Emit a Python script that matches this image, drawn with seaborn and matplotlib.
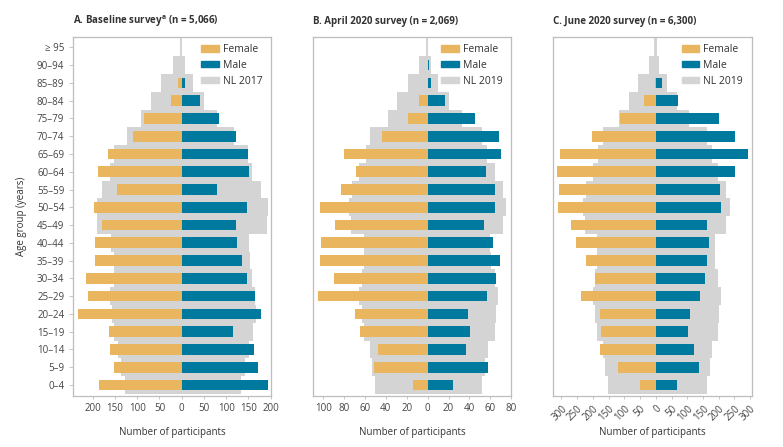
import numpy as np
import matplotlib
matplotlib.use('Agg')
import matplotlib.pyplot as plt
from matplotlib.patches import Patch
from matplotlib.ticker import FuncFormatter
import seaborn as sns

# Age groups, top to bottom
ages = ['≥ 95', '90–94', '85–89', '80–84', '75–79', '70–74', '65–69', '60–64',
        '55–59', '50–54', '45–49', '40–44', '35–39', '30–34', '25–29', '20–24',
        '15–19', '10–14', '5–9', '0–4']

# A. Baseline survey
fem_a = [0, 0, 8, 25, 85, 109, 166, 188, 145, 196, 178, 195, 195, 216, 210, 234, 163, 160, 153, 185]
male_a = [0, 0, 7, 40, 83, 122, 148, 151, 80, 147, 121, 124, 136, 146, 164, 178, 115, 162, 171, 195]
nl_fem_a = [4, 20, 46, 70, 91, 123, 153, 160, 178, 190, 190, 158, 153, 152, 160, 157, 152, 143, 136, 127]
nl_male_a = [1, 8, 25, 50, 79, 118, 148, 159, 179, 193, 192, 151, 154, 157, 164, 166, 160, 151, 142, 134]

# B. April 2020 survey
fem_b = [0, 0, 0, 8, 19, 44, 80, 69, 83, 103, 89, 102, 103, 90, 105, 70, 65, 48, 51, 14]
male_b = [0, 1, 3.5, 17, 45, 68, 70, 56, 64, 64, 54, 63, 69, 65, 57, 39, 41, 37, 58, 24]
nl_fem_b = [2, 8, 19, 29, 38, 55, 59, 66, 72, 75, 73, 61, 61, 63, 66, 63, 61, 55, 53, 50]
nl_male_b = [0.5, 3, 10, 20, 33, 52, 57, 64, 72, 75, 72, 60, 61, 64, 67, 65, 64, 58, 55, 52]

# C. June 2020 survey
fem_c = [0, 0, 4, 36, 114, 203, 305, 313, 307, 310, 271, 255, 222, 193, 237, 178, 175, 179, 120, 51]
male_c = [0, 2, 19, 70, 201, 251, 293, 252, 204, 206, 162, 169, 164, 157, 140, 108, 102, 120, 137, 67]
nl_fem_c = [6, 22, 56, 86, 117, 169, 183, 199, 222, 231, 225, 186, 186, 194, 201, 194, 186, 169, 162, 153]
nl_male_c = [3, 10, 34, 66, 104, 163, 180, 198, 224, 235, 224, 187, 189, 198, 208, 201, 198, 180, 171, 163]

FEMALE = '#E9B55F'
MALE = '#00799F'
GREY = '#D4D4D4'
FRAME = '#BDBDBD'
TEXT = '#333333'

sns.set_theme(style='white')
plt.rcParams['font.family'] = ['Open Sans', 'DejaVu Sans']
plt.rcParams['text.color'] = TEXT

fig = plt.figure(figsize=(7.83, 4.47), dpi=100)

panels = [
    dict(title='A. Baseline survey$^{\\mathregular{a}}$ (n = 5,066)', fem=fem_a, male=male_a,
         nlf=nl_fem_a, nlm=nl_male_a, nl='NL 2017', xlim=(-245, 201),
         ticks=[-200, -150, -100, -50, 0, 50, 100, 150, 200], left=0.0928, rot=False),
    dict(title='B. April 2020 survey (n = 2,069)', fem=fem_b, male=male_b,
         nlf=nl_fem_b, nlm=nl_male_b, nl='NL 2019', xlim=(-110, 80),
         ticks=[-100, -80, -60, -40, -20, 0, 20, 40, 60, 80], left=0.3994, rot=False),
    dict(title='C. June 2020 survey (n = 6,300)', fem=fem_c, male=male_c,
         nlf=nl_fem_c, nlm=nl_male_c, nl='NL 2019', xlim=(-326, 305),
         ticks=[-300, -250, -200, -150, -100, -50, 0, 50, 100, 150, 200, 250, 300], left=0.7066, rot=True),
]

for i, p in enumerate(panels):
    ax = fig.add_axes([p['left'], 0.1148, 0.2535, 0.8032])
    # population reference (full-height bars)
    sns.barplot(x=-np.array(p['nlf']), y=ages, order=ages, color=GREY, saturation=1,
                width=1.0, linewidth=0, orient='h', ax=ax)
    sns.barplot(x=np.array(p['nlm']), y=ages, order=ages, color=GREY, saturation=1,
                width=1.0, linewidth=0, orient='h', ax=ax)
    # participants
    sns.barplot(x=-np.array(p['fem']), y=ages, order=ages, color=FEMALE, saturation=1,
                width=0.6, linewidth=0, orient='h', ax=ax)
    sns.barplot(x=np.array(p['male']), y=ages, order=ages, color=MALE, saturation=1,
                width=0.6, linewidth=0, orient='h', ax=ax)

    ax.set_xlim(*p['xlim'])
    ax.set_ylim(19.6, -0.6)
    ax.set_xticks(p['ticks'])
    ax.xaxis.set_major_formatter(FuncFormatter(lambda v, pos: f'{abs(v):.0f}'))
    ax.tick_params(axis='x', labelsize=7, colors='#444444', length=2.5, width=0.6,
                   color=FRAME, pad=3, bottom=True)
    if p['rot']:
        for lab in ax.get_xticklabels():
            lab.set_rotation(45)
            lab.set_ha('right')
            lab.set_rotation_mode('anchor')
    if i == 0:
        ax.tick_params(axis='y', labelsize=7, colors='#444444', length=3, width=0.6,
                       color=FRAME, pad=3, left=True)
        ax.set_ylabel('Age group (years)', fontsize=7, color=TEXT, labelpad=7)
    else:
        ax.set_yticks([])
        ax.set_ylabel('')
    ax.set_xlabel('Number of participants', fontsize=7, color=TEXT)
    ax.xaxis.set_label_coords(0.5, -0.088)
    ax.xaxis.label.set_va('top')

    for s in ax.spines.values():
        s.set_color(FRAME)
        s.set_linewidth(0.9)

    ax.set_title(p['title'], loc='left', fontsize=7, fontweight='bold', color=TEXT, pad=9)

    handles = [Patch(color=FEMALE, label='Female'), Patch(color=MALE, label='Male'),
               Patch(color=GREY, label=p['nl'])]
    ax.legend(handles=handles, loc='upper right', frameon=False, fontsize=7.5,
              handlelength=1.7, handleheight=0.55, handletextpad=0.4,
              labelspacing=0.45, borderaxespad=0.15, bbox_to_anchor=(0.985, 0.995))

fig.savefig('out.png', dpi=100)
